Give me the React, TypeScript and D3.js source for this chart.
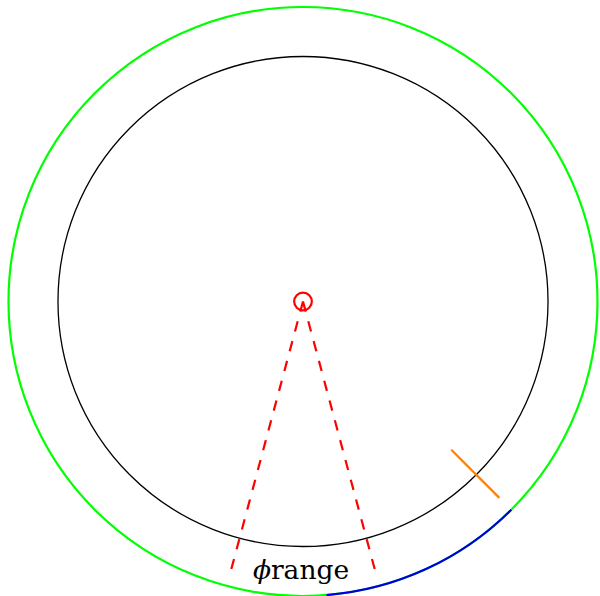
import React, { useEffect, useRef } from 'react';
import * as d3 from 'd3';

// radii as fraction of the outer circle
const ringNames = ['outer', 'inner', 'marker'];
const ringRadii = [1.0, 0.832, 0.03];
const ringColors = ['#00ff00', '#000000', '#ff0000'];

// dashed range lines (degrees, 0 = up, clockwise)
const rangeAngles = [165, 195];
const rangeLength = 0.952;

// blue arc and orange tick (degrees)
const arcStart = 135;
const arcEnd = 180;
const tickAngle = 135;
const tickFrom = 0.712;
const tickTo = 0.943;

const labelMain = 'ϕ';
const labelRest = 'range';

function App() {
    const ref = useRef<SVGSVGElement>(null);

    useEffect(() => {
        const width = 600;
        const height = 596;
        const cx = 303;
        const cy = 301.5;
        const R = 294.5;

        const svg = d3.select(ref.current);
        svg.selectAll('*').remove();

        const g = svg.append('g').attr('transform', `translate(${cx},${cy})`);
        const r = d3.scaleLinear().domain([0, 1]).range([0, R]);
        const deg = (a: number) => (a * Math.PI) / 180;
        const pt = (a: number, rr: number): [number, number] => [r(rr) * Math.sin(deg(a)), -r(rr) * Math.cos(deg(a))];

        // circles
        ringNames.forEach((name, i) => {
            g.append('circle')
                .attr('class', name)
                .attr('r', r(ringRadii[i]))
                .attr('fill', 'none')
                .attr('stroke', ringColors[i])
                .attr('stroke-width', name === 'inner' ? 1.3 : 2.2);
        });

        // blue arc on the outer circle
        const p = d3.path();
        p.arc(0, 0, r(1), deg(arcStart) - Math.PI / 2, deg(arcEnd) - Math.PI / 2 - 0.08);
        g.append('path')
            .attr('d', p.toString())
            .attr('fill', 'none')
            .attr('stroke', '#0000dd')
            .attr('stroke-width', 2.2);

        // dashed range lines
        rangeAngles.forEach(a => {
            const [x2, y2] = pt(a, rangeLength);
            g.append('line')
                .attr('x1', 0).attr('y1', 0)
                .attr('x2', x2).attr('y2', y2)
                .attr('stroke', '#ff0000')
                .attr('stroke-width', 2.2)
                .attr('stroke-dasharray', '10.5,10');
        });

        // orange tick
        const [tx1, ty1] = pt(tickAngle, tickFrom);
        const [tx2, ty2] = pt(tickAngle, tickTo);
        g.append('line')
            .attr('x1', tx1).attr('y1', ty1)
            .attr('x2', tx2).attr('y2', ty2)
            .attr('stroke', '#ff8000')
            .attr('stroke-width', 2.2);

        // label
        const [lx, ly] = pt(180, 0.945);
        const label = g.append('text')
            .attr('x', lx - 2)
            .attr('y', ly - 0.5)
            .attr('text-anchor', 'middle')
            .style('font-family', '"DejaVu Serif", serif')
            .style('font-size', '26.5px')
            .attr('fill', '#000');
        label.append('tspan').style('font-style', 'italic').text(labelMain);
        label.append('tspan').text(labelRest);

        svg.attr('width', width).attr('height', height);
    }, []);

    return (
        <svg ref={ref} width={600} height={596} style={{ position: 'absolute', left: 0, top: 0, background: 'white' }} />
    );
}

export default App;
